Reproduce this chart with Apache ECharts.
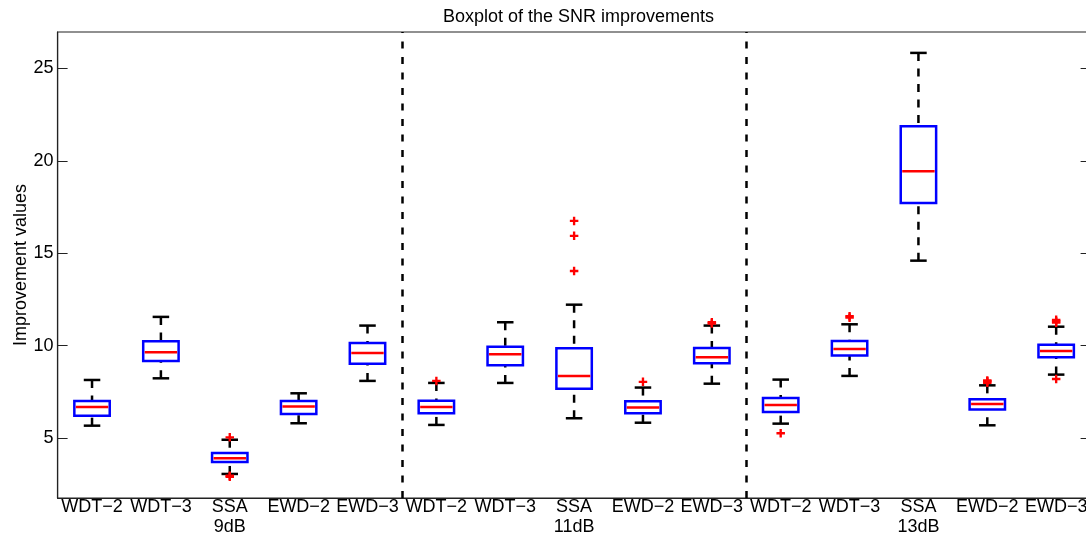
<!DOCTYPE html>
<html><head><meta charset="utf-8">
<script src="https://cdn.jsdelivr.net/npm/echarts@6/dist/echarts.min.js"></script>
<style>html,body{margin:0;padding:0;background:#fff}#c{width:1086px;height:538px}</style>
</head><body><div id="c"></div><script>
const groups = ['9dB', '11dB', '13dB'];
const methods = ['WDT\u22122', 'WDT\u22123', 'SSA', 'EWD\u22122', 'EWD\u22123'];
// [lower whisker, Q1, median, Q3, upper whisker] for each method
const stats9dB = [
  [5.68, 6.21, 6.69, 7.02, 8.15],
  [8.24, 9.18, 9.65, 10.24, 11.56],
  [3.07, 3.72, 3.92, 4.20, 4.92],
  [5.81, 6.31, 6.71, 7.02, 7.43],
  [8.10, 9.03, 9.61, 10.15, 11.09]
];
const stats11dB = [
  [5.72, 6.35, 6.69, 7.03, 7.99],
  [7.99, 8.95, 9.54, 9.95, 11.27],
  [6.08, 7.67, 8.37, 9.86, 12.22],
  [5.84, 6.35, 6.66, 7.00, 7.74],
  [7.95, 9.05, 9.38, 9.88, 11.09]
];
const stats13dB = [
  [5.79, 6.42, 6.80, 7.18, 8.17],
  [8.37, 9.47, 9.83, 10.26, 11.16],
  [14.60, 17.72, 19.43, 21.86, 25.83],
  [5.70, 6.55, 6.85, 7.11, 7.86],
  [8.44, 9.38, 9.72, 10.06, 11.03]
];
// outliers: [method index, value]
const outliers9dB = [[2, 5.05], [2, 2.92], [2, 2.97]];
const outliers11dB = [[0, 8.10], [2, 14.04], [2, 15.94], [2, 16.75], [3, 8.05], [4, 11.20], [4, 11.27]];
const outliers13dB = [[0, 5.27], [1, 11.52], [1, 11.60], [3, 8.00], [3, 8.08], [3, 8.12], [4, 11.25], [4, 11.32], [4, 11.40], [4, 8.20]];
const yTicks = [5, 10, 15, 20, 25];
const yMin = 1.77, yMax = 26.96;
const dividers = [5.5, 10.5];

const allStats = [stats9dB, stats11dB, stats13dB];
const allOutliers = [outliers9dB, outliers11dB, outliers13dB];
const boxData = [];
const outlierData = [];
allStats.forEach((g, gi) => g.forEach((s, mi) => boxData.push([gi * 5 + mi + 1].concat(s))));
allOutliers.forEach((g, gi) => g.forEach(o => outlierData.push([gi * 5 + o[0] + 1, o[1]])));
const xPositions = boxData.map(d => d[0]);

const FONT = 'Liberation Sans, Arial, Helvetica, sans-serif';
const chart = echarts.init(document.getElementById('c'));
chart.setOption({
  animation: false,
  backgroundColor: '#fff',
  title: {
    text: 'Boxplot of the SNR improvements',
    left: 438, top: 3,
    textStyle: { fontFamily: FONT, fontSize: 18, fontWeight: 'normal', color: '#000' }
  },
  grid: {
    left: 57.6, top: 32, width: 1033, height: 466,
    outerBoundsMode: 'none', containLabel: false,
    show: true, borderColor: '#222', borderWidth: 1.2, backgroundColor: '#fff'
  },
  xAxis: {
    type: 'value', min: 0.5, max: 15.5,
    splitLine: { show: false },
    axisLine: { show: true, lineStyle: { color: '#222', width: 1.2 } },
    axisTick: { show: false },
    axisLabel: {
      customValues: xPositions,
      margin: -1,
      hideOverlap: false,
      fontFamily: FONT, fontSize: 18, color: '#000', lineHeight: 20,
      formatter: v => {
        const i = Math.round(v) - 1;
        const m = i % 5, g = Math.floor(i / 5);
        return m === 2 ? methods[m] + '\n' + groups[g] : methods[m];
      }
    }
  },
  yAxis: [{
    type: 'value', min: yMin, max: yMax, position: 'left',
    name: 'Improvement values', nameLocation: 'middle', nameGap: 28, nameMoveOverlap: false,
    nameTextStyle: { fontFamily: FONT, fontSize: 18, color: '#000' },
    splitLine: { show: false },
    axisLine: { show: true, lineStyle: { color: '#222', width: 1.2 } },
    axisTick: { show: true, inside: true, length: 10, customValues: yTicks, lineStyle: { color: '#222' } },
    axisLabel: { customValues: yTicks, margin: 4, fontFamily: FONT, fontSize: 18, color: '#000' }
  }, {
    type: 'value', min: yMin, max: yMax, position: 'right',
    splitLine: { show: false },
    axisLine: { show: true, lineStyle: { color: '#222', width: 1.2 } },
    axisTick: { show: true, inside: true, length: 10, customValues: yTicks, lineStyle: { color: '#222' } },
    axisLabel: { show: false }
  }],
  series: [{
    type: 'custom',
    data: boxData,
    encode: { x: 0, y: [1, 2, 3, 4, 5] },
    renderItem: (params, api) => {
      const x = api.value(0);
      const hw = api.size([0.257, 0])[0];
      const cw = api.size([0.12, 0])[0];
      const yLow = api.coord([x, api.value(1)])[1];
      const yQ1 = api.coord([x, api.value(2)])[1];
      const yMed = api.coord([x, api.value(3)])[1];
      const yQ3 = api.coord([x, api.value(4)])[1];
      const yHigh = api.coord([x, api.value(5)])[1];
      const cx = api.coord([x, api.value(3)])[0];
      const dash = () => ({ stroke: '#000', lineWidth: 2.5, lineDash: [8, 7.5], fill: null });
      const solid = () => ({ stroke: '#000', lineWidth: 2.5, fill: null });
      return {
        type: 'group',
        children: [
          { type: 'line', shape: { x1: cx, y1: yHigh, x2: cx, y2: yQ3 }, style: dash() },
          { type: 'line', shape: { x1: cx, y1: yLow, x2: cx, y2: yQ1 }, style: dash() },
          { type: 'line', shape: { x1: cx - cw, y1: yHigh, x2: cx + cw, y2: yHigh }, style: solid() },
          { type: 'line', shape: { x1: cx - cw, y1: yLow, x2: cx + cw, y2: yLow }, style: solid() },
          { type: 'rect', shape: { x: cx - hw, y: yQ3, width: 2 * hw, height: yQ1 - yQ3 }, style: { fill: 'none', stroke: '#0000ff', lineWidth: 2.5 } },
          { type: 'line', shape: { x1: cx - hw + 1.5, y1: yMed, x2: cx + hw - 1.5, y2: yMed }, style: { stroke: '#ff0000', lineWidth: 2.5 } }
        ]
      };
    },
    markLine: {
      silent: true, symbol: 'none', label: { show: false },
      lineStyle: { color: '#000', type: [7, 8.5], width: 2.5 },
      data: dividers.map(d => ({ xAxis: d }))
    }
  }, {
    type: 'scatter',
    data: outlierData,
    symbol: 'path://M0,3.25H9V5.75H0Z M3.25,0H5.75V9H3.25Z',
    symbolSize: 8.5,
    itemStyle: { color: '#ff0000', opacity: 1 },
    z: 3
  }]
});
</script></body></html>
